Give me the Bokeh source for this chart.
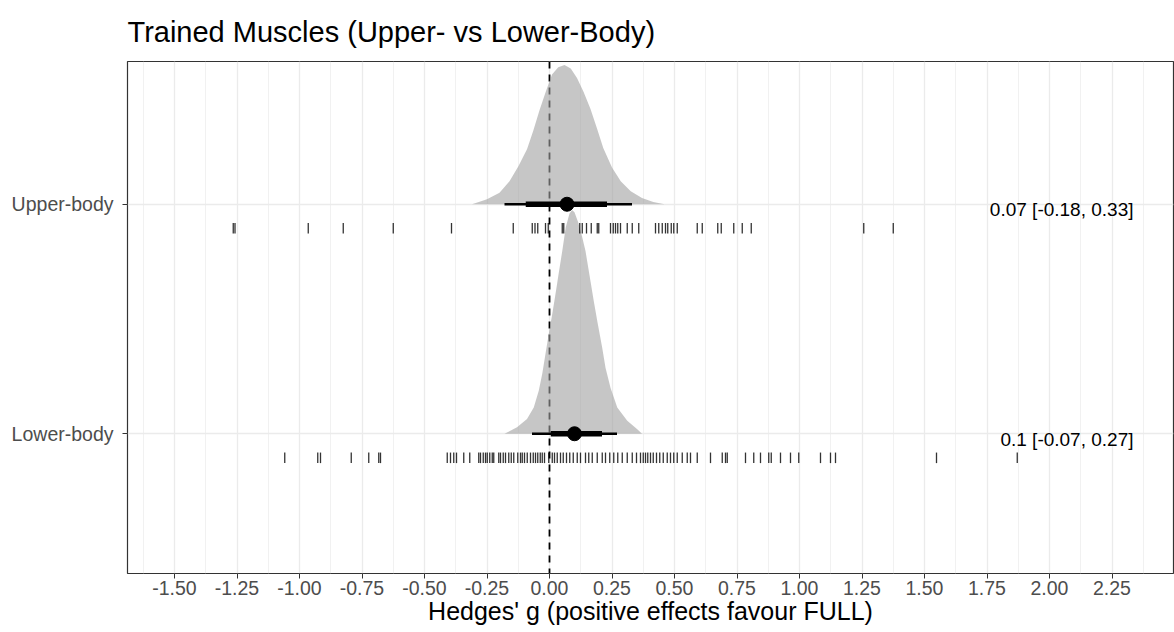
import numpy as np
from bokeh.plotting import figure
from bokeh.models import FixedTicker, Span, Range1d
from bokeh.embed import file_html
from bokeh.resources import INLINE
from bokeh.core.properties import value

# ---------------- data ----------------
categories = ["Upper-body", "Lower-body"]
cat_pos = [2, 1]
medians = [0.07, 0.10]
ci95_lo = [-0.18, -0.07]
ci95_hi = [0.33, 0.27]
ci66_lo = [-0.095, 0.005]
ci66_hi = [0.23, 0.21]
summary_labels = ["0.07 [-0.18, 0.33]", "0.1 [-0.07, 0.27]"]

# posterior density outlines (x, height above baseline)
upper_dens_x = [-0.31, -0.25, -0.2, -0.16, -0.125, -0.09, -0.065, -0.04, -0.015, 0.01,
                0.035, 0.06, 0.085, 0.11, 0.136, 0.164, 0.19, 0.215, 0.25, 0.285,
                0.325, 0.37, 0.415, 0.46]
upper_dens_h = [0.0, 0.022, 0.05, 0.1, 0.165, 0.24, 0.32, 0.41, 0.49, 0.565,
                0.597, 0.607, 0.592, 0.55, 0.49, 0.415, 0.33, 0.245, 0.16, 0.1,
                0.057, 0.027, 0.01, 0.0]
lower_dens_x = [-0.18, -0.13, -0.09, -0.063, -0.043, -0.029, -0.016, -0.003, 0.011, 0.024,
                0.037, 0.051, 0.065, 0.08, 0.09, 0.1, 0.115, 0.13, 0.144, 0.164,
                0.177, 0.191, 0.211, 0.224, 0.244, 0.271, 0.311, 0.351, 0.37]
lower_dens_h = [0.0, 0.028, 0.064, 0.114, 0.187, 0.261, 0.348, 0.435, 0.522, 0.609,
                0.7, 0.796, 0.9, 0.96, 0.975, 0.965, 0.92, 0.86, 0.796, 0.665,
                0.578, 0.491, 0.374, 0.287, 0.2, 0.114, 0.057, 0.02, 0.0]

# individual effect sizes (rug)
upper_effects = [-1.265, -1.258, -0.965, -0.825, -0.625, -0.392, -0.145, -0.069, -0.058,
                 -0.047, -0.016, -0.005, 0.051, 0.057, 0.121, 0.131, 0.148, 0.167, 0.191,
                 0.197, 0.244, 0.255, 0.264, 0.273, 0.284, 0.311, 0.331, 0.357, 0.424,
                 0.437, 0.451, 0.464, 0.473, 0.487, 0.497, 0.511, 0.591, 0.611, 0.673,
                 0.687, 0.737, 0.771, 0.807, 1.257, 1.375]
lower_effects = [-1.059, -0.927, -0.916, -0.793, -0.723, -0.683, -0.676,
                 -0.409, -0.396, -0.383, -0.372, -0.343, -0.319, -0.283, -0.276, -0.265,
                 -0.256, -0.249, -0.239, -0.229, -0.223, -0.203, -0.196, -0.185, -0.176,
                 -0.163, -0.153, -0.143, -0.127, -0.116, -0.109, -0.1, -0.089, -0.076,
                 -0.065, -0.056, -0.047, -0.037, -0.029, -0.02, -0.003, 0.011, 0.02,
                 0.031, 0.044, 0.055, 0.068, 0.081, 0.095, 0.111, 0.124, 0.144, 0.157,
                 0.171, 0.191, 0.211, 0.224, 0.241, 0.257, 0.273, 0.291, 0.311, 0.331,
                 0.348, 0.364, 0.375, 0.384, 0.393, 0.404, 0.415, 0.428, 0.441, 0.455,
                 0.471, 0.484, 0.497, 0.511, 0.531, 0.551, 0.564, 0.591, 0.644, 0.691,
                 0.704, 0.711, 0.784, 0.817, 0.844, 0.877, 0.887, 0.924, 0.964, 0.997,
                 1.084, 1.124, 1.144, 1.548, 1.871]

x_ticks = [-1.5, -1.25, -1.0, -0.75, -0.5, -0.25, 0.0, 0.25, 0.5, 0.75,
           1.0, 1.25, 1.5, 1.75, 2.0, 2.25]
x_tick_labels = ["-1.50", "-1.25", "-1.00", "-0.75", "-0.50", "-0.25", "0.00", "0.25",
                 "0.50", "0.75", "1.00", "1.25", "1.50", "1.75", "2.00", "2.25"]
x_minor = [-1.625, -1.375, -1.125, -0.875, -0.625, -0.375, -0.125, 0.125, 0.375, 0.625,
           0.875, 1.125, 1.375, 1.625, 1.875, 2.125, 2.375]

title_text = "Trained Muscles (Upper- vs Lower-Body)"
x_label = "Hedges' g (positive effects favour FULL)"

# ---------------- figure ----------------
FONT = "Liberation Sans"
p = figure(width=1174, height=632, output_backend="svg", toolbar_location=None,
           x_range=Range1d(-1.688, 2.496), y_range=Range1d(0.391, 2.622),
           min_border_left=127, min_border_right=1, min_border_top=60,
           min_border_bottom=59)

p.background_fill_color = "white"
p.border_fill_color = "white"
p.outline_line_color = "#333333"
p.outline_line_width = 1.2

p.title.text = title_text
p.title.text_font = FONT
p.title.text_font_size = "29px"
p.title.text_font_style = "normal"
p.title.text_color = "black"
p.title.align = "left"
p.title.standoff = 27

# axes
p.xaxis.ticker = FixedTicker(ticks=x_ticks, minor_ticks=x_minor)
p.xaxis.major_label_overrides = {t: l for t, l in zip(x_ticks, x_tick_labels)}
p.yaxis.ticker = FixedTicker(ticks=cat_pos)
p.yaxis.major_label_overrides = {c: n for c, n in zip(cat_pos, categories)}
p.xaxis.axis_label = x_label
for ax in (p.xaxis[0], p.yaxis[0]):
    ax.axis_line_color = None
    ax.major_tick_line_color = "#333333"
    ax.major_tick_out = 5
    ax.major_tick_in = 0
    ax.minor_tick_line_color = None
    ax.major_label_text_font = FONT
    ax.major_label_text_font_size = "19.5px"
    ax.major_label_text_color = "#4d4d4d"
p.xaxis.major_label_standoff = 2
p.yaxis.major_label_standoff = 9
p.xaxis.axis_label_text_font = FONT
p.xaxis.axis_label_text_font_size = "25px"
p.xaxis.axis_label_text_font_style = "normal"
p.xaxis.axis_label_text_color = "black"
p.xaxis.axis_label_standoff = -1

# grids
p.xgrid.grid_line_color = "#ebebeb"
p.xgrid.grid_line_width = 1.3
p.xgrid.minor_grid_line_color = "#ebebeb"
p.xgrid.minor_grid_line_width = 0.7
p.ygrid.grid_line_color = "#ebebeb"
p.ygrid.grid_line_width = 1.3

# zero reference line (under the densities)
p.add_layout(Span(location=0, dimension="height", line_color="black",
                  line_width=1.8, line_dash="7 6", level="underlay"))

# densities
p.patch(upper_dens_x, [cat_pos[0] + h for h in upper_dens_h],
        fill_color="#a0a0a0", fill_alpha=0.6, line_color=None)
p.patch(lower_dens_x, [cat_pos[1] + h for h in lower_dens_h],
        fill_color="#a0a0a0", fill_alpha=0.6, line_color=None)

# rugs
for eff, c in ((upper_effects, cat_pos[0]), (lower_effects, cat_pos[1])):
    p.segment(x0=eff, x1=eff, y0=[c - 0.082] * len(eff), y1=[c - 0.128] * len(eff),
              line_color="black", line_alpha=0.8, line_width=1.3)

# intervals and point estimates
p.segment(x0=ci95_lo, x1=ci95_hi, y0=cat_pos, y1=cat_pos, line_color="black", line_width=2.6)
p.segment(x0=ci66_lo, x1=ci66_hi, y0=cat_pos, y1=cat_pos, line_color="black", line_width=5.5)
p.scatter(medians, cat_pos, size=14, fill_color="black", line_color="black")

# summary text
p.text(x=[2.336] * 2, y=[c - 0.025 for c in cat_pos], text=summary_labels,
       text_align="right", text_baseline="middle", text_font=value(FONT),
       text_font_size="19px", text_color="black")

open("out.html", "w").write(file_html(p, INLINE))
